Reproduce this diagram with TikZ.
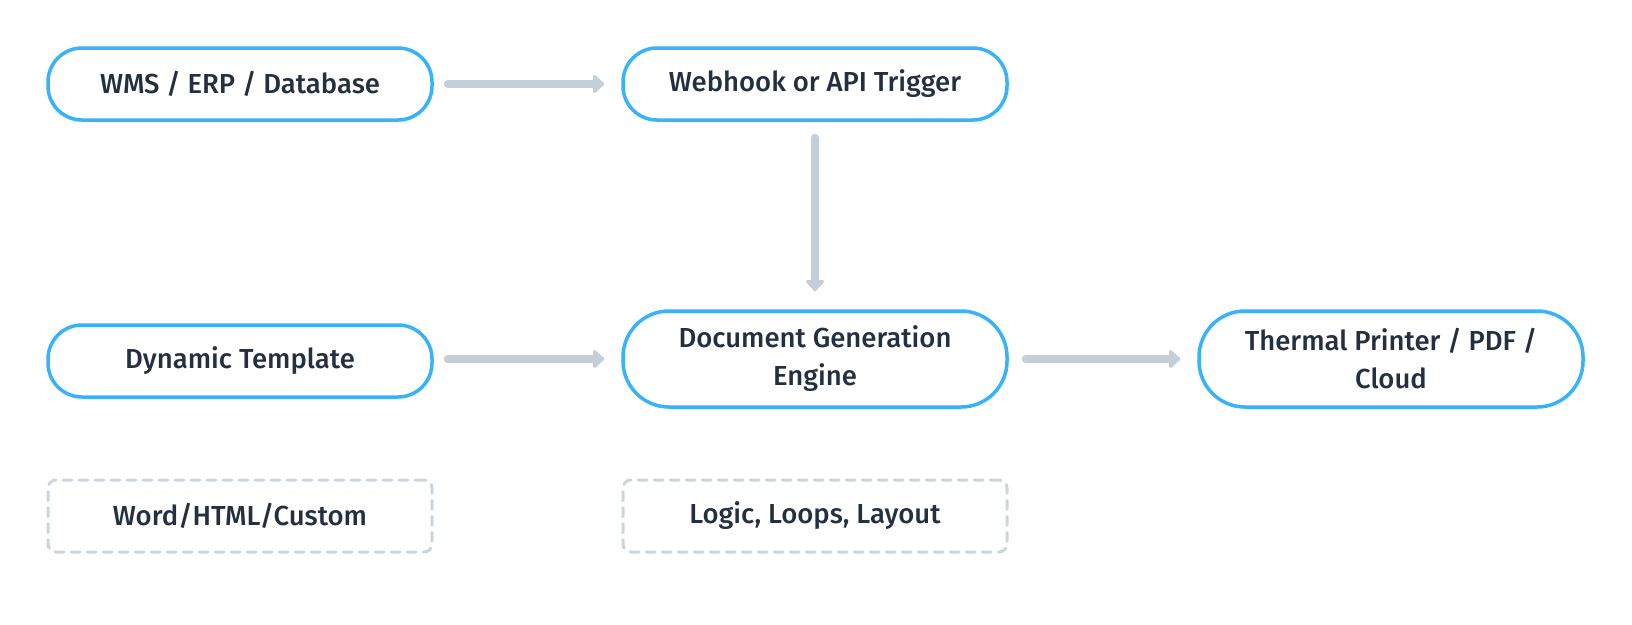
\documentclass[tikz,border=0pt]{standalone}
\usepackage{fontspec}
\setmainfont{Fira Sans}[UprightFont=* Medium]
\usetikzlibrary{arrows.meta}
\definecolor{boxblue}{RGB}{56,178,250}
\definecolor{arrowgray}{RGB}{196,207,217}
\definecolor{dashgray}{RGB}{203,213,222}
\definecolor{textdark}{RGB}{36,48,66}
\tikzset{
  pill/.style={draw=boxblue, line width=3.5pt, rounded corners=34pt, fill=white,
    minimum width=384pt, inner sep=0pt, align=center, text=textdark,
    font=\fontsize{27.5}{38}\selectfont},
  pillone/.style={pill, minimum height=72pt},
  pilltwo/.style={pill, minimum height=96pt, rounded corners=46pt},
  notebox/.style={draw=dashgray, line width=3pt, dash pattern=on 9pt off 7pt, line cap=round,
    rounded corners=8pt, minimum width=384pt, minimum height=72pt, inner sep=0pt,
    align=center, text=textdark, font=\fontsize{27.5}{38}\selectfont},
  flow/.style={draw=arrowgray, line width=8pt, line cap=round,
    -{Triangle[width=21pt,length=12pt,round]}},
}
\begin{document}
\begin{tikzpicture}[x=1pt,y=-1pt]
\useasboundingbox (0,0) rectangle (1632,624);
\node[pillone] (src) at (240,84) {WMS / ERP / Database};
\node[pillone] (hook) at (815,84) {Webhook or API Trigger};
\node[pillone] (tpl) at (240,361) {Dynamic Template};
\node[pilltwo] (eng) at (815,359) {Document Generation\\Engine};
\node[pilltwo] (out) at (1391,359) {Thermal Printer / PDF /\\Cloud};
\node[notebox] (tplnote) at (240,516) {Word/HTML/Custom};
\node[notebox] (engnote) at (815,516) {Logic, Loops, Layout};
\draw[flow] ([xshift=14pt]src.east) -- ([xshift=-17pt]hook.west);
\draw[flow] ([yshift=-16pt]hook.south) -- ([yshift=18pt]eng.north);
\draw[flow] ([xshift=14pt]tpl.east |- eng.center) -- ([xshift=-17pt]eng.west);
\draw[flow] ([xshift=17pt]eng.east) -- ([xshift=-17pt]out.west);
\end{tikzpicture}
\end{document}
